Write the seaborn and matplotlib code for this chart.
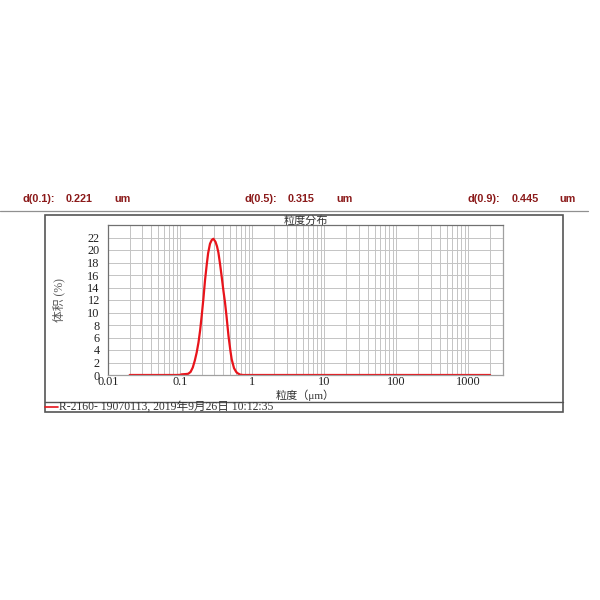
import matplotlib
matplotlib.use("Agg")
import matplotlib.pyplot as plt
import matplotlib.ticker as mticker
from matplotlib.lines import Line2D
from matplotlib.patches import Rectangle
import numpy as np
import pandas as pd
import seaborn as sns

# particle size (um) and volume (%)
sizes = [0.02, 0.03, 0.05, 0.07, 0.09, 0.10, 0.105, 0.12, 0.13, 0.14, 0.15,
         0.16, 0.17, 0.18, 0.19, 0.20, 0.211, 0.222, 0.235, 0.245, 0.26, 0.275,
         0.29, 0.31, 0.325, 0.34, 0.36, 0.38, 0.40, 0.42, 0.44, 0.47, 0.50,
         0.52, 0.56, 0.60, 0.625, 0.68, 0.75, 1.0, 10, 100, 1000, 2000]
volume = [0, 0, 0, 0, 0, 0.02, 0.1, 0.15, 0.2, 0.5, 1.2,
          2.3, 3.6, 5.2, 7.2, 9.6, 12.3, 15.2, 17.8, 19.5, 21.0, 21.6,
          21.8, 21.3, 20.6, 19.6, 17.6, 15.5, 13.4, 11.6, 9.5, 6.2, 3.8,
          2.5, 1.1, 0.5, 0.3, 0.06, 0, 0, 0, 0, 0, 0]

x_ticks = [0.01, 0.1, 1, 10, 100, 1000]
x_tick_labels = ["0.01", "0.1", "1", "10", "100", "1000"]
y_ticks = list(range(0, 24, 2))

stat_names = ["d(0.1):", "d(0.5):", "d(0.9):"]
stat_values = ["0.221", "0.315", "0.445"]
legend_text = "R-2160- 19070113, 2019年9月26日 10:12:35"

sns.set_style("white")
serif = ["Liberation Serif", "Noto Sans CJK SC"]
plt.rcParams["font.family"] = serif

df = pd.DataFrame({"size": sizes, "volume": volume})

fig = plt.figure(figsize=(6, 6), dpi=100)
ax = fig.add_axes([0.180, 0.375, 0.658, 0.25])

sns.lineplot(data=df, x="size", y="volume", ax=ax, color="#e8141b", linewidth=1.6)

ax.set_xscale("log")
ax.set_xlim(0.01, 3000)
ax.set_ylim(0, 24)
ax.xaxis.set_major_locator(mticker.FixedLocator(x_ticks))
ax.xaxis.set_major_formatter(mticker.FixedFormatter(x_tick_labels))
ax.xaxis.set_minor_locator(mticker.LogLocator(base=10, subs=np.arange(2, 10)))
ax.xaxis.set_minor_formatter(mticker.NullFormatter())
ax.set_yticks(y_ticks)
ax.yaxis.set_minor_locator(mticker.FixedLocator([24]))
ax.grid(True, which="both", color="#c4c4c4", linewidth=0.7)
ax.tick_params(which="both", length=0, labelsize=8.8, colors="#222222")
ax.tick_params(axis="x", pad=1)
ax.tick_params(axis="y", pad=6)
for side, sp in ax.spines.items():
    sp.set_color("#707070" if side in ("top", "left") else "#a0a0a0")
    sp.set_linewidth(0.9)

ax.set_xlabel("粒度（μm）", fontsize=8, labelpad=1, color="#333333")
ax.set_ylabel("体积 (%)", fontsize=8.5, labelpad=16, color="#555555")
ax.set_title("粒度分布", fontsize=8, pad=1, color="#333333")

# header with the d-values
red = "#8b1a1a"
name_x = [0.038, 0.408, 0.78]
for nx, name, val in zip(name_x, stat_names, stat_values):
    fig.text(nx, 0.669, name, fontsize=7.8, fontweight="bold", color=red,
             family="Liberation Sans", va="center")
    fig.text(nx + 0.072, 0.669, val, fontsize=7.8, fontweight="bold", color=red,
             family="Liberation Sans", va="center")
    fig.text(nx + 0.153, 0.669, "um", fontsize=7.8, fontweight="bold", color=red,
             family="Liberation Sans", va="center")
fig.add_artist(Line2D([0.0, 0.98], [0.648, 0.648], color="#909090", linewidth=0.9))

# outer frame and legend row
fig.add_artist(Rectangle((0.075, 0.313), 0.863, 0.329, fill=False,
                         edgecolor="#555555", linewidth=1.2))
fig.add_artist(Line2D([0.075, 0.938], [0.330, 0.330], color="#555555", linewidth=1.0))
fig.add_artist(Line2D([0.075, 0.097], [0.3215, 0.3215], color="#e8141b", linewidth=1.2))
fig.text(0.099, 0.3215, legend_text, fontsize=8.4, color="#333333", va="center",
         family=serif)

fig.savefig("out.png", dpi=100, facecolor="white")
